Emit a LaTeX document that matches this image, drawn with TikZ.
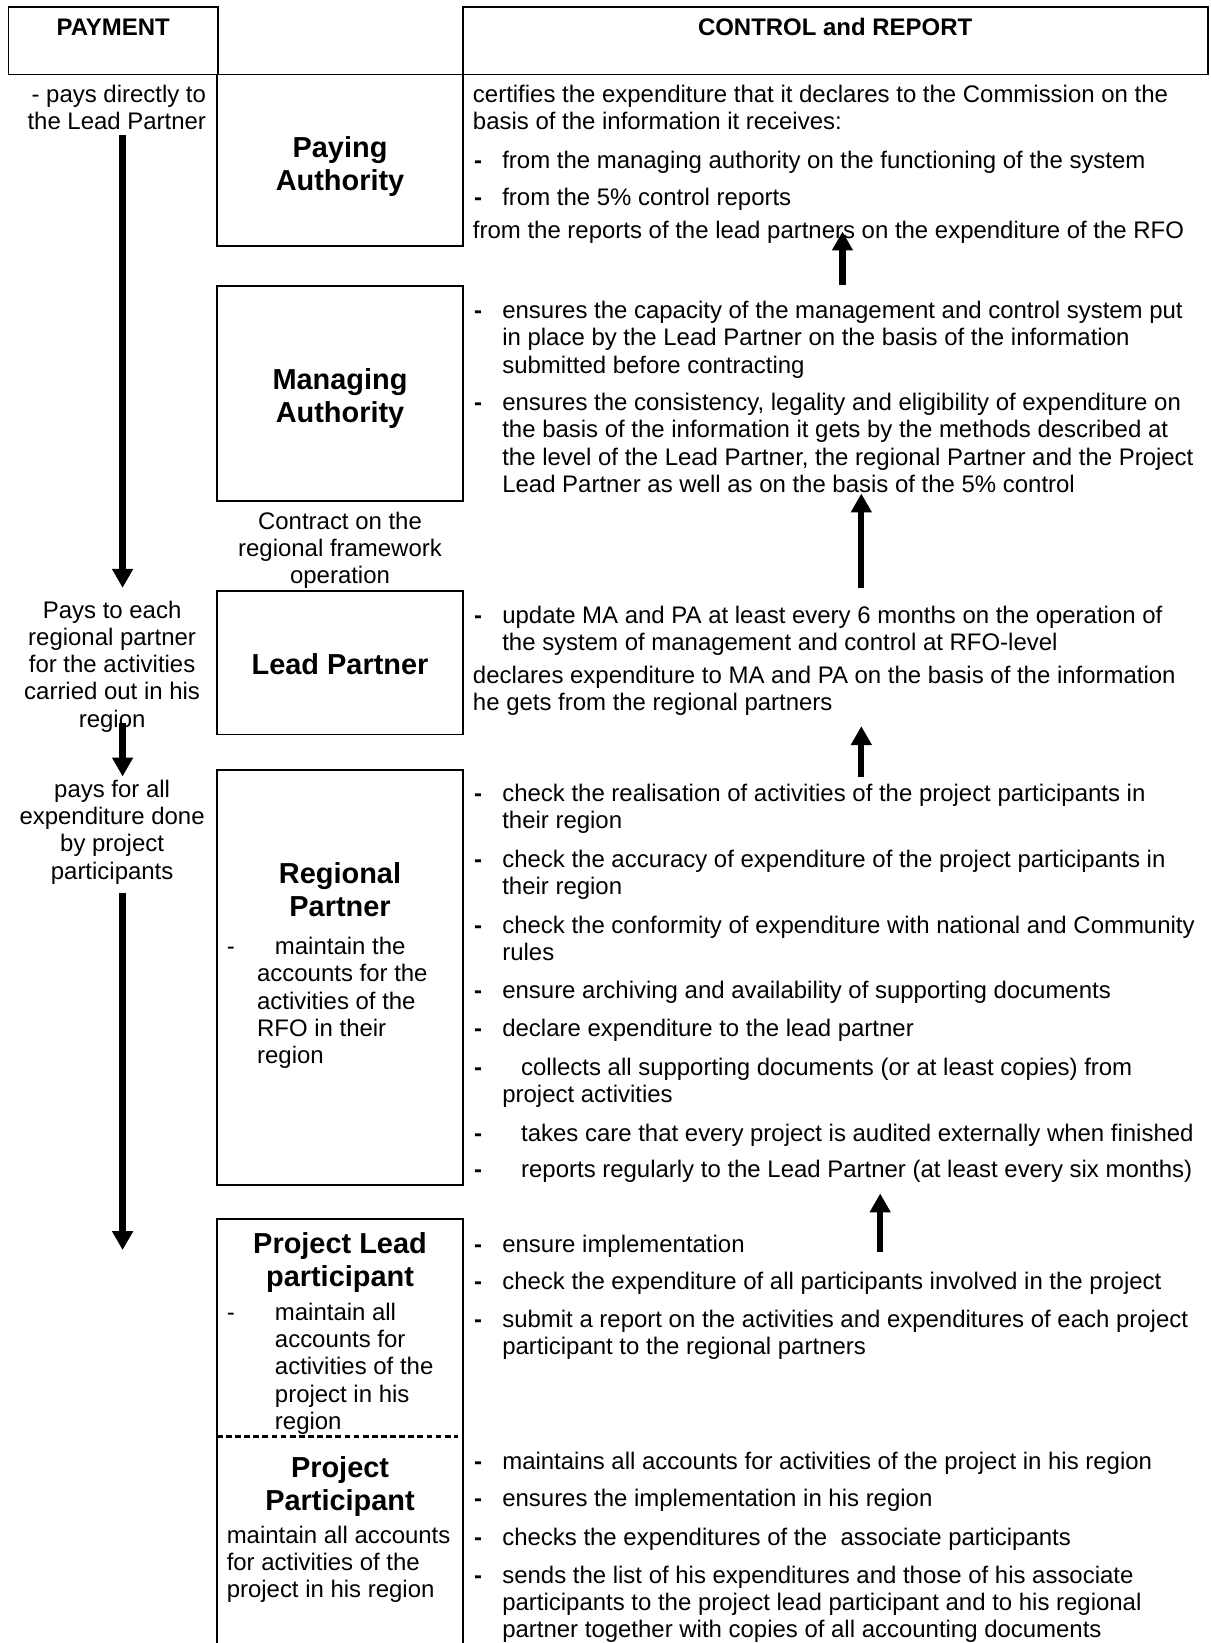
\documentclass[tikz,border=0pt]{standalone}
\usepackage{fontspec}
\setmainfont{Liberation Sans}
\usetikzlibrary{arrows.meta}
\newcommand\Lft[1]{\parbox[t]{400pt}{\raggedright #1}}
\newcommand\Ctr[1]{\parbox[t]{200pt}{\centering #1}}
\newcommand\Rgt[1]{\parbox[t]{200pt}{\raggedleft #1}}
\begin{document}
\begin{tikzpicture}[x=0.5pt,y=-0.5pt,
  box/.style={draw, line width=0.8pt},
  body/.style={inner sep=0pt, font=\fontsize{11.43}{13}\selectfont},
  lt/.style={body, anchor=base west},
  dsh/.style={inner sep=0pt, anchor=base west, font=\fontsize{11.43}{13}\selectfont\bfseries},
  ct/.style={body, anchor=base},
  hdr/.style={inner sep=0pt, anchor=base, font=\fontsize{11.43}{13}\selectfont\bfseries},
  ttl/.style={inner sep=0pt, anchor=base, font=\fontsize{13.8}{15.7}\selectfont\bfseries},
  flow/.style={line width=3pt, -{Triangle[width=9.5pt,length=9pt]}},
  sep/.style={line width=1.2pt, dash pattern=on 2.75pt off 1.6pt}
]
\useasboundingbox (0,0) rectangle (1155,1568);
\fill[white] (0,0) rectangle (1155,1568);

% header
\draw[box] (8,7) rectangle (208,71);
\draw[box] (442,7) rectangle (1153,71);
\node[hdr] (hpay) at (108,34) {PAYMENT};
\node[hdr] (hcr) at (797,34) {CONTROL and REPORT};

% middle boxes
\draw[box] (207,71) rectangle (442,234.5);
\draw[box] (207,273) rectangle (442,478);
\draw[box] (207,564) rectangle (442,701);
\draw[box] (207,735) rectangle (442,1131);
\draw[box] (207,1572) -- (207,1163.6) -- (442,1163.6) -- (442,1572);
\draw[sep] (207,1371) -- (437,1371);

% titles
\node[ttl] (pa) at (324.5,150) {\Ctr{Paying\\Authority}};
\node[ttl] (ma) at (324.5,372) {\Ctr{Managing\\Authority}};
\node[ttl] (lp) at (324.5,644) {Lead Partner};
\node[ttl] (rp) at (324.5,843) {\Ctr{Regional\\Partner}};
\node[ttl] (plp) at (324.5,1196) {\Ctr{Project Lead\\participant}};
\node[ttl] (pp) at (324.5,1410) {\Ctr{Project\\Participant}};

\node[ct] (contract) at (324.5,505) {\Ctr{Contract on the\\regional framework\\operation}};

% texts inside boxes
\node[lt] (rpd) at (216,911) {-};
\node[lt] (rpt) at (245,911) {\Lft{\hspace*{8.5pt}maintain the\\accounts for the\\activities of the\\RFO in their\\region}};
\node[lt] (plpd) at (216,1260) {-};
\node[lt] (plpt) at (262,1260) {\Lft{maintain all\\accounts for\\activities of the\\project in his\\region}};
\node[lt] (ppt) at (216,1473) {\Lft{maintain all accounts\\for activities of the\\project in his region}};

% payment column
\node[body, anchor=base east] (l1) at (197,98) {\Rgt{- pays directly to\\the Lead Partner}};
\node[ct] (l2) at (107,590) {\Ctr{Pays to each\\regional partner\\for the activities\\carried out in his\\region}};
\node[ct] (l3) at (107,761) {\Ctr{pays for all\\expenditure done\\by project\\participants}};

\coordinate (a1s) at (117,129); \coordinate (a1e) at (117,561);
\coordinate (a2s) at (117,690); \coordinate (a2e) at (117,741);
\coordinate (a3s) at (117,852); \coordinate (a3e) at (117,1193);
\draw[flow] (a1s) -- (a1e);
\draw[flow] (a2s) -- (a2e);
\draw[flow] (a3s) -- (a3e);

% control and report column
\node[lt] (pa1) at (451,98) {\Lft{certifies the expenditure that it declares to the Commission on the\\basis of the information it receives:}};
\node[dsh] (pa2d) at (452,161) {-};
\node[lt] (pa2) at (479,161) {from the managing authority on the functioning of the system};
\node[dsh] (pa3d) at (452,196) {-};
\node[lt] (pa3) at (479,196) {from the 5\% control reports};
\node[lt] (pa4) at (451,228) {from the reports of the lead partners on the expenditure of the RFO};

\node[dsh] (ma1d) at (452,304) {-};
\node[lt] (ma1) at (479,304) {\Lft{ensures the capacity of the management and control system put\\in place by the Lead Partner on the basis of the information\\submitted before contracting}};
\node[dsh] (ma2d) at (452,392) {-};
\node[lt] (ma2) at (479,392) {\Lft{ensures the consistency, legality and eligibility of expenditure on\\the basis of the information it gets by the methods described at\\the level of the Lead Partner, the regional Partner and the Project\\Lead Partner as well as on the basis of the 5\% control}};

\node[dsh] (lp1d) at (452,595) {-};
\node[lt] (lp1) at (479,595) {\Lft{update MA and PA at least every 6 months on the operation of\\the system of management and control at RFO-level}};
\node[lt] (lp2) at (451,652) {\Lft{declares expenditure to MA and PA on the basis of the information\\he gets from the regional partners}};

\node[dsh] (rp1d) at (452,765) {-};
\node[lt] (rp1) at (479,765) {\Lft{check the realisation of activities of the project participants in\\their region}};
\node[dsh] (rp2d) at (452,828) {-};
\node[lt] (rp2) at (479,828) {\Lft{check the accuracy of expenditure of the project participants in\\their region}};
\node[dsh] (rp3d) at (452,891) {-};
\node[lt] (rp3) at (479,891) {\Lft{check the conformity of expenditure with national and Community\\rules}};
\node[dsh] (rp4d) at (452,953) {-};
\node[lt] (rp4) at (479,953) {ensure archiving and availability of supporting documents};
\node[dsh] (rp5d) at (452,989) {-};
\node[lt] (rp5) at (479,989) {declare expenditure to the lead partner};
\node[dsh] (rp6d) at (452,1026) {-};
\node[lt] (rp6) at (479,1026) {\Lft{\hspace*{9pt}collects all supporting documents (or at least copies) from\\project activities}};
\node[dsh] (rp7d) at (452,1089) {-};
\node[lt] (rp7) at (497,1089) {takes care that every project is audited externally when finished};
\node[dsh] (rp8d) at (452,1124) {-};
\node[lt] (rp8) at (497,1124) {reports regularly to the Lead Partner (at least every six months)};

\node[dsh] (plp1d) at (452,1195) {-};
\node[lt] (plp1) at (479,1195) {ensure implementation};
\node[dsh] (plp2d) at (452,1231) {-};
\node[lt] (plp2) at (479,1231) {check the expenditure of all participants involved in the project};
\node[dsh] (plp3d) at (452,1267) {-};
\node[lt] (plp3) at (479,1267) {\Lft{submit a report on the activities and expenditures of each project\\participant to the regional partners}};

\node[dsh] (pp1d) at (452,1402) {-};
\node[lt] (pp1) at (479,1402) {maintains all accounts for activities of the project in his region};
\node[dsh] (pp2d) at (452,1438) {-};
\node[lt] (pp2) at (479,1438) {ensures the implementation in his region};
\node[dsh] (pp3d) at (452,1475) {-};
\node[lt] (pp3) at (479,1475) {checks the expenditures of the~ associate participants};
\node[dsh] (pp4d) at (452,1511) {-};
\node[lt] (pp4) at (479,1511) {\Lft{sends the list of his expenditures and those of his associate\\participants to the project lead participant and to his regional\\partner together with copies of all accounting documents}};

\coordinate (r1s) at (804,272); \coordinate (r1e) at (804,221);
\coordinate (r2s) at (822,561); \coordinate (r2e) at (822,471);
\coordinate (r3s) at (822,742); \coordinate (r3e) at (822,693);
\coordinate (r4s) at (840,1195); \coordinate (r4e) at (840,1139);
\draw[flow] (r1s) -- (r1e);
\draw[flow] (r2s) -- (r2e);
\draw[flow] (r3s) -- (r3e);
\draw[flow] (r4s) -- (r4e);
\end{tikzpicture}
\end{document}
